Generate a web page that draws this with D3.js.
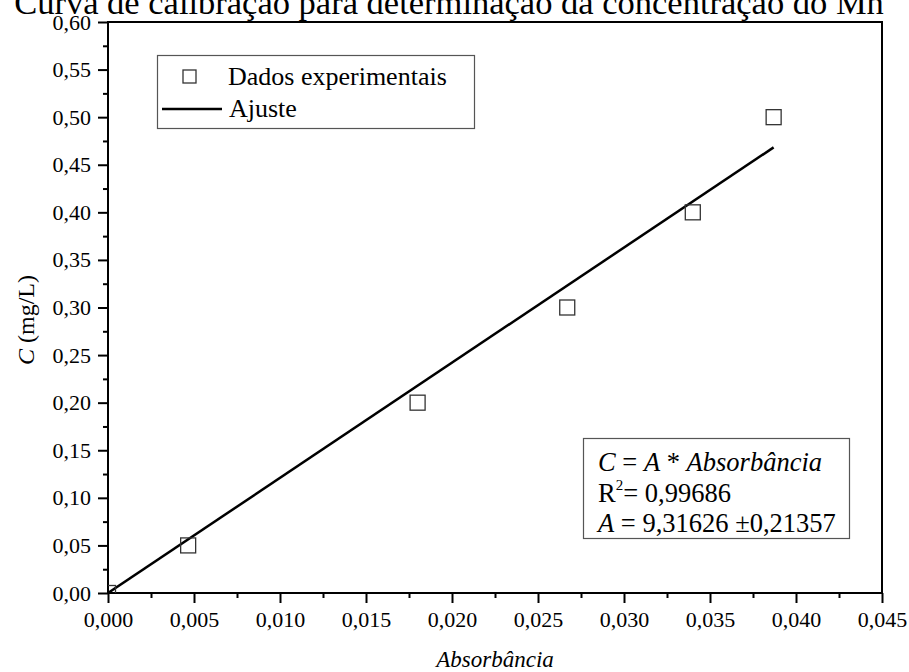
<!DOCTYPE html>
<html>
<head>
<meta charset="utf-8">
<script src="https://cdn.jsdelivr.net/npm/d3@7"></script>
<style>
  body { margin: 0; background: #fff; }
  text { font-family: "Liberation Serif", "Times New Roman", serif; fill: #000; }
</style>
</head>
<body>
<script>
// dados experimentais
const absorbancia = [0, 0.00466, 0.0180, 0.0267, 0.0340, 0.0387];
const concentracao = [0, 0.05, 0.20, 0.30, 0.40, 0.50];
// inclinação da reta de ajuste, como desenhada
const fitSlope = 12.1;
// marcas dos eixos
const xTickValues = [0, 0.005, 0.010, 0.015, 0.020, 0.025, 0.030, 0.035, 0.040, 0.045];
const yTickValues = [0, 0.05, 0.10, 0.15, 0.20, 0.25, 0.30, 0.35, 0.40, 0.45, 0.50, 0.55, 0.60];

const width = 909;
const height = 672;
const margin = { top: 22, right: 27, bottom: 79, left: 108 };

const svg = d3.select("body").append("svg").attr("width", width).attr("height", height);

const xScale = d3.scaleLinear().domain([0, 0.045]).range([margin.left, width - margin.right]);
const yScale = d3.scaleLinear().domain([0, 0.6]).range([height - margin.bottom, margin.top]);

const comma = f => (v => d3.format(f)(v).replace(".", ","));

/** eixos: marcas principais e secundárias */
const xMinor = d3.range(0.0025, 0.045, 0.005);
const yMinor = d3.range(0.025, 0.6, 0.05);

function styleAxis(g) {
  g.attr("font-family", null).attr("font-size", null);
  g.select(".domain").remove();
  g.selectAll(".tick line").attr("stroke", "#000").attr("stroke-width", 2);
  g.selectAll(".tick text").style("font-size", "22px");
}

svg.append("g")
  .attr("transform", "translate(0," + (height - margin.bottom) + ")")
  .call(d3.axisBottom(xScale).tickValues(xTickValues).tickFormat(comma(".3f")).tickSize(10).tickPadding(8))
  .call(styleAxis);
svg.append("g")
  .attr("transform", "translate(0," + (height - margin.bottom) + ")")
  .call(d3.axisBottom(xScale).tickValues(xMinor).tickFormat("").tickSize(5))
  .call(styleAxis);

svg.append("g")
  .attr("transform", "translate(" + margin.left + ",0)")
  .call(d3.axisLeft(yScale).tickValues(yTickValues).tickFormat(comma(".2f")).tickSize(10).tickPadding(7))
  .call(styleAxis);
svg.append("g")
  .attr("transform", "translate(" + margin.left + ",0)")
  .call(d3.axisLeft(yScale).tickValues(yMinor).tickFormat("").tickSize(5))
  .call(styleAxis);

/** moldura */
svg.append("rect")
  .attr("x", xScale(0)).attr("y", yScale(0.6))
  .attr("width", xScale(0.045) - xScale(0)).attr("height", yScale(0) - yScale(0.6))
  .attr("fill", "none").attr("stroke", "#000").attr("stroke-width", 2);

svg.append("clipPath").attr("id", "plotclip").append("rect")
  .attr("x", xScale(0)).attr("y", yScale(0.6))
  .attr("width", xScale(0.045) - xScale(0)).attr("height", yScale(0) - yScale(0.6));

const plot = svg.append("g").attr("clip-path", "url(#plotclip)");

/** reta de ajuste */
const xFit = [0, d3.max(absorbancia)];
plot.append("path")
  .datum(xFit)
  .attr("d", d3.line().x(d => xScale(d)).y(d => yScale(fitSlope * d)))
  .attr("stroke", "#000").attr("stroke-width", 2.5).attr("fill", "none");

/** pontos */
const sq = 15;
plot.selectAll(".pt")
  .data(absorbancia)
  .enter()
  .append("rect")
  .attr("class", "pt")
  .attr("x", d => xScale(d) - sq / 2)
  .attr("y", (d, i) => yScale(concentracao[i]) - sq / 2)
  .attr("width", sq).attr("height", sq)
  .attr("fill", "none").attr("stroke", "#333").attr("stroke-width", 1.3);

/** título (cortado no topo) */
svg.append("text")
  .attr("x", 449).attr("y", 14)
  .attr("text-anchor", "middle")
  .style("font-size", "34.5px")
  .text("Curva de calibração para determinação da concentração do Mn");

/** rótulos dos eixos */
svg.append("text")
  .attr("x", xScale(0.0225)).attr("y", 667)
  .attr("text-anchor", "middle")
  .style("font-size", "23px").style("font-style", "italic")
  .text("Absorbância");

const yl = svg.append("text")
  .attr("transform", "translate(34," + 320 + ") rotate(-90)")
  .attr("text-anchor", "middle")
  .style("font-size", "24px");
yl.append("tspan").style("font-style", "italic").text("C");
yl.append("tspan").text(" (mg/L)");

/** legenda */
const lg = svg.append("g");
lg.append("rect").attr("x", 157.5).attr("y", 55.5).attr("width", 317).attr("height", 73)
  .attr("fill", "#fff").attr("stroke", "#555").attr("stroke-width", 1.2);
lg.append("rect").attr("x", 183).attr("y", 70).attr("width", 13).attr("height", 13)
  .attr("fill", "none").attr("stroke", "#333").attr("stroke-width", 1.3);
lg.append("text").attr("x", 228).attr("y", 85).style("font-size", "26px").text("Dados experimentais");
lg.append("line").attr("x1", 162).attr("x2", 222).attr("y1", 109).attr("y2", 109)
  .attr("stroke", "#000").attr("stroke-width", 2.5);
lg.append("text").attr("x", 229).attr("y", 117).style("font-size", "26px").text("Ajuste");

/** caixa da equação */
const eq = svg.append("g");
eq.append("rect").attr("x", 583.5).attr("y", 438.5).attr("width", 266).attr("height", 100)
  .attr("fill", "#fff").attr("stroke", "#555").attr("stroke-width", 1.2);
const l1 = eq.append("text").attr("x", 598).attr("y", 471).style("font-size", "26.5px");
l1.append("tspan").style("font-style", "italic").text("C");
l1.append("tspan").text(" = ");
l1.append("tspan").style("font-style", "italic").text("A");
l1.append("tspan").text(" * ");
l1.append("tspan").style("font-style", "italic").text("Absorbância");
const l2 = eq.append("text").attr("x", 598).attr("y", 502).style("font-size", "26.5px");
l2.append("tspan").text("R");
l2.append("tspan").attr("dy", -12).style("font-size", "15px").text("2");
l2.append("tspan").attr("dy", 12).text("= 0,99686");
const l3 = eq.append("text").attr("x", 598).attr("y", 532).style("font-size", "26.5px");
l3.append("tspan").style("font-style", "italic").text("A");
l3.append("tspan").text(" = 9,31626 ±0,21357");
</script>
</body>
</html>
